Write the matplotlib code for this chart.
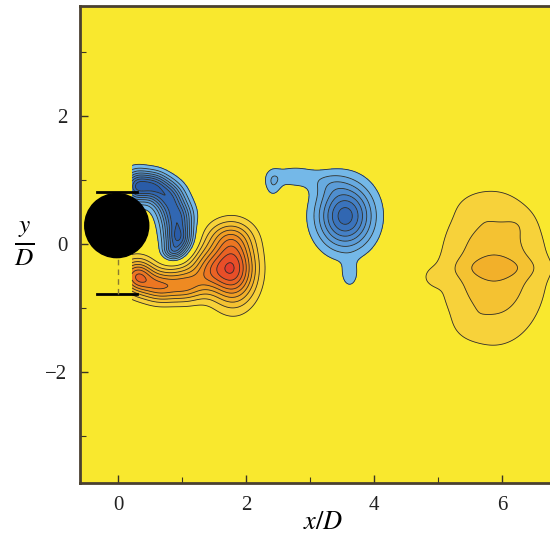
import numpy as np
import matplotlib
matplotlib.use("Agg")
import matplotlib.pyplot as plt
from matplotlib.patches import Circle
from matplotlib.ticker import MultipleLocator

plt.rcParams['font.family'] = ['Liberation Serif', 'DejaVu Serif']
plt.rcParams['mathtext.fontset'] = 'stix'

# vortex patches in the wake, each a gaussian lump of vorticity
# (centre x/D, centre y/D, width x, width y, peak strength)
vort_x = [0.28, 0.54, 0.78, 0.92, 0.94, 0.85,
          0.30, 0.65, 1.05, 1.40, 1.80, 1.72,
          3.55, 2.75, 2.42, 3.62, 3.30,
          5.87, 5.93, 4.95, 5.60, 6.25, 5.50, 6.95]
vort_y = [0.90, 0.92, 0.74, 0.42, 0.08, -0.12,
          -0.50, -0.66, -0.64, -0.40, -0.38, 0.12,
          0.44, 1.06, 0.95, -0.48, 0.95,
          -0.38, -0.37, -0.52, 0.55, 0.30, -1.25, 0.90]
vort_sx = [0.14, 0.16, 0.17, 0.17, 0.15, 0.11,
           0.18, 0.20, 0.20, 0.20, 0.24, 0.26,
           0.30, 0.26, 0.09, 0.09, 0.20,
           0.57, 0.50, 0.13, 0.18, 0.15, 0.16, 0.14]
vort_sy = [0.17, 0.15, 0.17, 0.18, 0.16, 0.09,
           0.18, 0.17, 0.18, 0.24, 0.36, 0.18,
           0.35, 0.12, 0.15, 0.14, 0.14,
           0.82, 0.12, 0.10, 0.13, 0.14, 0.14, 0.16]
vort_amp = [-6.5, -6.0, -6.0, -6.5, -7.0, -3.0,
            6.5, 5.0, 4.5, 4.0, 8.5, 2.2,
            -7.5, -1.7, -1.6, -1.6, -1.0,
            2.9, 0.8, 0.8, 0.4, 0.35, 0.4, -2.2]

neg_levels = [-11, -10, -9, -8, -7, -6, -5, -4, -3, -2, -1]
pos_levels = [1, 2, 3, 4, 5, 6, 7, 8, 9, 10, 11]
neg_colors = ['#1d4796', '#23519f', '#2a5ca8', '#3167b2', '#3a73bc',
              '#4480c6', '#4f8ecf', '#5b9cd8', '#67aae0', '#74b8e8']
pos_colors = ['#f7d23a', '#f4c232', '#f2b02a', '#f09e24', '#ee8a22',
              '#ec7622', '#ea6224', '#e84e28', '#e43c2c', '#e02e30']

# measurement window starts just behind the cylinder
xg = np.linspace(0.22, 7.2, 420)
yg = np.linspace(-3.8, 3.8, 460)
X, Y = np.meshgrid(xg, yg)
W = np.zeros_like(X)
for cx, cy, sx, sy, a in zip(vort_x, vort_y, vort_sx, vort_sy, vort_amp):
    W += a * np.exp(-((X - cx) ** 2 / (2 * sx ** 2) + (Y - cy) ** 2 / (2 * sy ** 2)))

fig = plt.figure(figsize=(5.5, 5.43), dpi=100)
ax = fig.add_axes([80 / 550, 60 / 543, 486 / 550, 477 / 543])
ax.set_facecolor('#f9e82e')

ax.contourf(X, Y, W, levels=neg_levels, colors=neg_colors, extend='min')
ax.contourf(X, Y, W, levels=pos_levels, colors=pos_colors, extend='max')
ax.contour(X, Y, W, levels=neg_levels + pos_levels, colors='#2e2e28',
           linewidths=0.6, negative_linestyles='solid')

# cylinder and the limits of its motion
ax.add_patch(Circle((-0.02, 0.29), 0.5, color='black', zorder=5))
ax.plot([-0.33, 0.30], [0.81, 0.81], color='black', lw=2, zorder=6)
ax.plot([-0.33, 0.30], [-0.78, -0.78], color='black', lw=2, zorder=6)
ax.plot([0, 0], [-0.78, -0.21], color='#8a7a30', lw=1, ls=(0, (4, 3)), zorder=6)

ax.set_xlim(-0.594, 7.0)
ax.set_ylim(-3.73, 3.72)

ax.xaxis.set_major_locator(MultipleLocator(2))
ax.xaxis.set_minor_locator(MultipleLocator(1))
ax.yaxis.set_major_locator(MultipleLocator(2))
ax.yaxis.set_minor_locator(MultipleLocator(1))
ax.tick_params(which='both', direction='in', colors='#3a3424', labelcolor='#222222',
               top=False, right=False)
ax.tick_params(which='major', length=6, width=1, labelsize=15, pad=9)
ax.tick_params(which='minor', length=4, width=0.8)
fmt = plt.FuncFormatter(lambda v, p: f'{v:g}'.replace('-', '\u2212'))
ax.xaxis.set_major_formatter(fmt)
ax.yaxis.set_major_formatter(fmt)

for s in ax.spines.values():
    s.set_color('#4a4030')
    s.set_linewidth(2)

ax.set_xlabel(r'$x/D$', fontsize=19, labelpad=-2)
fig.text(24 / 550, 1 - 244 / 543, r'$\frac{y}{D}$', fontsize=26, ha='center', va='center')

fig.savefig('out.png', dpi=100)
